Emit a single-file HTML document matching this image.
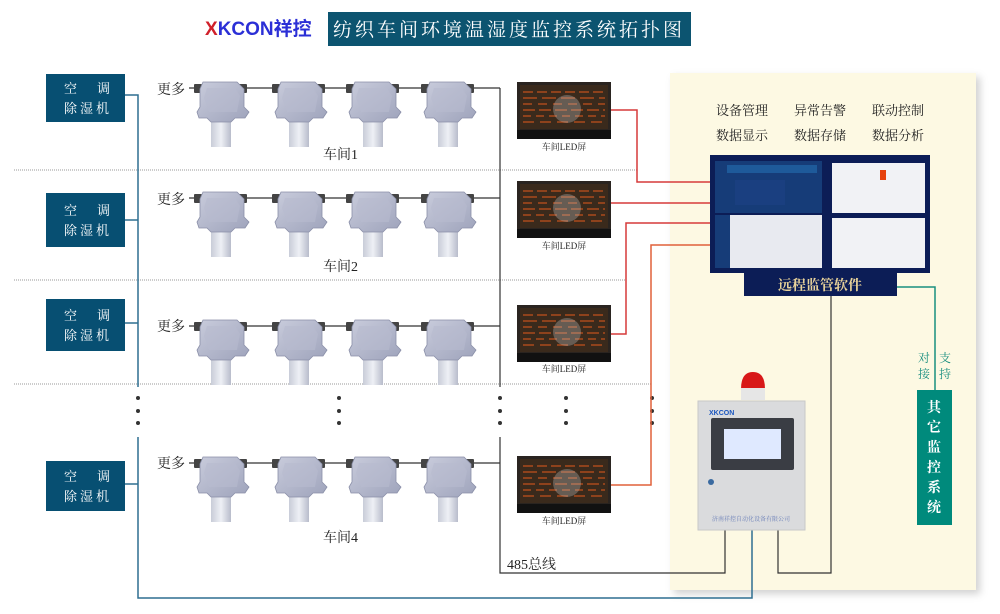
<!DOCTYPE html>
<html><head><meta charset="utf-8"><style>
body{margin:0;background:#fff;}
svg{display:block}
text{font-family:"Liberation Serif","Noto Serif CJK SC",serif;}
.s{font-family:"Liberation Sans","Noto Sans CJK SC",sans-serif;}
</style></head><body>
<svg width="1000" height="614" viewBox="0 0 1000 614" xmlns="http://www.w3.org/2000/svg">
<defs>
<filter id="sh" x="-5%" y="-5%" width="115%" height="115%"><feDropShadow dx="4" dy="4" stdDeviation="4" flood-color="#000" flood-opacity="0.18"/></filter>
<linearGradient id="bg" x1="0" y1="0" x2="1" y2="1"><stop offset="0" stop-color="#c9ccdc"/><stop offset="1" stop-color="#9ea3bb"/></linearGradient>
<linearGradient id="cg" x1="0" y1="0" x2="1" y2="0"><stop offset="0" stop-color="#c8ccd8"/><stop offset="0.5" stop-color="#eef0f5"/><stop offset="1" stop-color="#b8bccb"/></linearGradient>
<g id="sen">
<rect x="-3" y="4" width="8" height="9" fill="#444" rx="1"/>
<rect x="42" y="4" width="8" height="9" fill="#444" rx="1"/>
<rect x="14" y="37" width="20" height="30" fill="url(#cg)"/>
<path d="M6 2 L40 2 L47 9 L47 27 L52 32 L48 38 L38 38 L34 42 L14 42 L10 38 L2 38 L0 32 L3 27 L3 9 Z" fill="url(#bg)" stroke="#8a8fa8" stroke-width="0.8"/>
<path d="M10 8 L38 8 L43 16 L40 32 L12 32 L7 18 Z" fill="#b7bbcf" opacity="0.6"/>
</g>
<g id="led">
<rect x="0" y="0" width="94" height="57" fill="#2a2420"/>
<rect x="3" y="3" width="88" height="44" fill="#3a2a1c"/>
<g stroke="#c8541e" stroke-width="1.5" opacity="0.8">
<line x1="6" y1="10" x2="88" y2="10" stroke-dasharray="10 4"/>
<line x1="6" y1="16" x2="88" y2="16" stroke-dasharray="14 5"/>
<line x1="6" y1="22" x2="88" y2="22" stroke-dasharray="9 6"/>
<line x1="6" y1="28" x2="88" y2="28" stroke-dasharray="12 4"/>
<line x1="6" y1="34" x2="88" y2="34" stroke-dasharray="8 5"/>
<line x1="6" y1="40" x2="88" y2="40" stroke-dasharray="11 6"/>
</g>
<ellipse cx="50" cy="27" rx="14" ry="14" fill="#bbb" opacity="0.35"/>
<rect x="0" y="48" width="94" height="9" fill="#111"/>
</g>
</defs>

<!-- title -->
<text x="205" y="35" class="s" font-size="19" font-weight="bold" fill="#2b2fd6"><tspan fill="#d0202a">X</tspan>KCON祥控</text>
<rect x="328" y="12" width="363" height="34" fill="#0c5470"/>
<text x="509" y="36" text-anchor="middle" font-size="19" fill="#fff" letter-spacing="3">纺织车间环境温湿度监控系统拓扑图</text>

<!-- yellow panel -->
<rect x="670" y="73" width="306" height="517" fill="#fdf9e3" filter="url(#sh)"/>

<!-- dotted separators -->
<g stroke="#999" stroke-width="1" stroke-dasharray="1 1">
<line x1="14" y1="170" x2="637" y2="170"/>
<line x1="14" y1="280" x2="626" y2="280"/>
<line x1="14" y1="384" x2="651" y2="384"/>
</g>

<!-- AC boxes -->
<g font-size="13" fill="#fff" class="s">
<rect x="46" y="74" width="79" height="48" fill="#074f72"/>
<text x="64" y="93">空</text><text x="97" y="93">调</text><text x="64" y="113" letter-spacing="3">除湿机</text>
<rect x="46" y="193" width="79" height="54" fill="#074f72"/>
<text x="64" y="215">空</text><text x="97" y="215">调</text><text x="64" y="235" letter-spacing="3">除湿机</text>
<rect x="46" y="299" width="79" height="52" fill="#074f72"/>
<text x="64" y="320">空</text><text x="97" y="320">调</text><text x="64" y="340" letter-spacing="3">除湿机</text>
<rect x="46" y="461" width="79" height="50" fill="#074f72"/>
<text x="64" y="481">空</text><text x="97" y="481">调</text><text x="64" y="501" letter-spacing="3">除湿机</text>
</g>

<!-- blue line -->
<g stroke="#2e6f91" stroke-width="1.5" fill="none">
<polyline points="125,95 138,95 138,387"/>
<line x1="125" y1="220" x2="138" y2="220"/>
<line x1="125" y1="323" x2="138" y2="323"/>
<polyline points="138,437 138,598 752,598 752,530"/>
<line x1="125" y1="484" x2="138" y2="484"/>
</g>

<!-- bus lines -->
<g stroke="#333" stroke-width="1.2" fill="none">
<line x1="189" y1="88" x2="500" y2="88"/>
<line x1="189" y1="198" x2="500" y2="198"/>
<line x1="189" y1="326" x2="500" y2="326"/>
<line x1="189" y1="463" x2="500" y2="463"/>
<line x1="500" y1="88" x2="500" y2="387"/>
<polyline points="500,437 500,573 725,573 725,530"/>
<polyline points="831,296 831,573 778,573 778,530"/>
</g>

<!-- sensors -->
<g>
<text x="157" y="94" font-size="14" fill="#222">更多</text>
<use href="#sen" x="197" y="80"/><use href="#sen" x="275" y="80"/><use href="#sen" x="349" y="80"/><use href="#sen" x="424" y="80"/>
<text x="157" y="204" font-size="14" fill="#222">更多</text>
<use href="#sen" x="197" y="190"/><use href="#sen" x="275" y="190"/><use href="#sen" x="349" y="190"/><use href="#sen" x="424" y="190"/>
<text x="157" y="331" font-size="14" fill="#222">更多</text>
<use href="#sen" x="197" y="318"/><use href="#sen" x="275" y="318"/><use href="#sen" x="349" y="318"/><use href="#sen" x="424" y="318"/>
<text x="157" y="468" font-size="14" fill="#222">更多</text>
<use href="#sen" x="197" y="455"/><use href="#sen" x="275" y="455"/><use href="#sen" x="349" y="455"/><use href="#sen" x="424" y="455"/>
</g>
<g font-size="14" fill="#222">
<text x="323" y="159">车间1</text>
<text x="323" y="271">车间2</text>
<text x="323" y="542">车间4</text>
<text x="507" y="569">485总线</text>
</g>

<!-- dots -->
<g fill="#333">
<circle cx="138" cy="398" r="2"/><circle cx="138" cy="411" r="2"/><circle cx="138" cy="423" r="2"/>
<circle cx="339" cy="398" r="2"/><circle cx="339" cy="411" r="2"/><circle cx="339" cy="423" r="2"/>
<circle cx="500" cy="398" r="2"/><circle cx="500" cy="411" r="2"/><circle cx="500" cy="423" r="2"/>
<circle cx="566" cy="398" r="2"/><circle cx="566" cy="411" r="2"/><circle cx="566" cy="423" r="2"/>
<circle cx="652" cy="398" r="2"/><circle cx="652" cy="411" r="2"/><circle cx="652" cy="423" r="2"/>
</g>

<!-- LEDs -->
<use href="#led" x="517" y="82"/><use href="#led" x="517" y="181"/><use href="#led" x="517" y="305"/><use href="#led" x="517" y="456"/>
<g font-size="9" fill="#222" text-anchor="middle">
<text x="564" y="150">车间LED屏</text><text x="564" y="249">车间LED屏</text><text x="564" y="372">车间LED屏</text><text x="564" y="524">车间LED屏</text>
</g>

<!-- red lines -->
<g fill="none" stroke-width="1.5">
<polyline points="611,110 637,110 637,182 712,182" stroke="#d63a3a"/>
<line x1="611" y1="203" x2="712" y2="203" stroke="#d63a3a"/>
<polyline points="611,334 626,334 626,223 712,223" stroke="#d63a3a"/>
<polyline points="611,485 651,485 651,245 712,245" stroke="#e0603a"/>
</g>

<!-- features -->
<g font-size="13" fill="#222">
<text x="716" y="115">设备管理</text><text x="794" y="115">异常告警</text><text x="872" y="115">联动控制</text>
<text x="716" y="140">数据显示</text><text x="794" y="140">数据存储</text><text x="872" y="140">数据分析</text>
</g>

<!-- software screens -->
<rect x="710" y="155" width="220" height="118" fill="#0c1d56"/>
<rect x="715" y="161" width="107" height="52" fill="#163c78"/>
<rect x="727" y="165" width="90" height="8" fill="#1e5a9a"/>
<rect x="735" y="180" width="50" height="25" fill="#1a3f80"/>
<rect x="832" y="163" width="93" height="50" fill="#f1f2f5"/>
<rect x="880" y="170" width="6" height="10" fill="#e6420e"/>
<rect x="715" y="215" width="107" height="53" fill="#e8eaf0"/>
<rect x="715" y="215" width="15" height="53" fill="#163c78"/>
<rect x="832" y="218" width="93" height="50" fill="#f1f2f5"/>
<rect x="744" y="273" width="153" height="23" fill="#0c1d56"/>
<text x="820" y="290" text-anchor="middle" font-size="14" font-weight="bold" fill="#e9d39a">远程监管软件</text>

<!-- teal -->
<polyline points="897,287 935,287 935,390" fill="none" stroke="#1a8f80" stroke-width="1.5"/>
<g font-size="12" fill="#1a8f80">
<text x="918" y="362">对</text><text x="918" y="378">接</text>
<text x="939" y="362">支</text><text x="939" y="378">持</text>
</g>
<rect x="917" y="390" width="35" height="135" fill="#008a7c"/>
<g font-size="14" font-weight="bold" fill="#fff" class="s" text-anchor="middle">
<text x="934" y="412">其</text><text x="934" y="432">它</text><text x="934" y="452">监</text><text x="934" y="472">控</text><text x="934" y="492">系</text><text x="934" y="512">统</text>
</g>

<!-- device -->
<path d="M741 389 Q741 372 753 372 Q765 372 765 389 Z" fill="#d81818"/>
<rect x="741" y="388" width="24" height="12" fill="#e6e6e6"/>
<rect x="698" y="401" width="107" height="129" fill="#dadbdd" stroke="#c8c8c8"/>
<text x="709" y="415" font-size="7" fill="#1a56c0" class="s" font-weight="bold">XKCON</text>
<rect x="711" y="418" width="83" height="52" fill="#3a3d44" rx="2"/>
<rect x="724" y="429" width="57" height="30" fill="#dfe9ff"/>
<circle cx="711" cy="482" r="3" fill="#3a6aa0"/>
<text x="751" y="521" font-size="6" fill="#6c80b8" text-anchor="middle">济南祥控自动化设备有限公司</text>
</svg>
</body></html>
